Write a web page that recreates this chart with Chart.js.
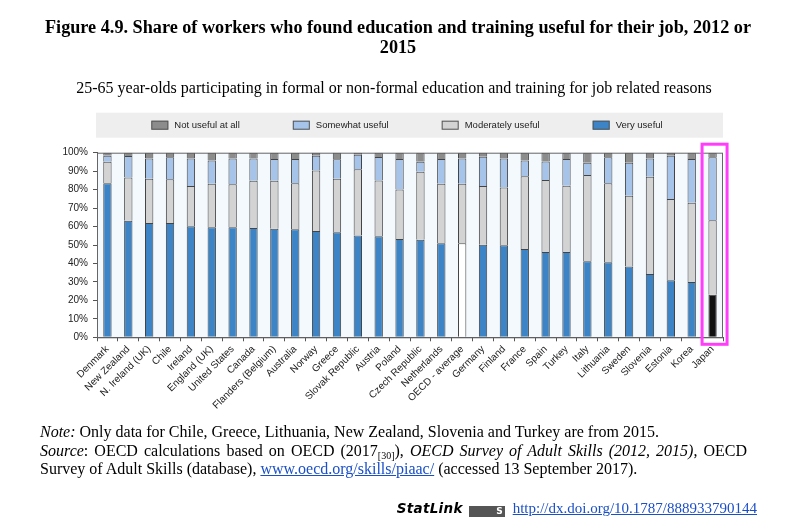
<!DOCTYPE html>
<html>
<head>
<meta charset="utf-8">
<script src="https://cdn.jsdelivr.net/npm/chart.js@4.4.1/dist/chart.umd.min.js"></script>
<style>
  body { margin: 0; background: #fff; }
  #wrap { position: relative; width: 800px; height: 532px; overflow: hidden; }
  #chart { position: absolute; left: 0; top: 0; }
  .serif { position: absolute; font-family: "Liberation Serif", "Times New Roman", serif; color: #000; }
  #title { top: 17px; left: -2px; width: 800px; text-align: center; font-weight: bold; font-size: 18.2px; line-height: 20px; }
  #subtitle { top: 79px; left: -6px; width: 800px; text-align: center; font-size: 16px; line-height: 18px; }
  #notes { top: 423px; left: 40px; width: 707px; font-size: 16px; line-height: 18.5px; }
  #notes div { white-space: nowrap; }
  #notes .just { white-space: normal; text-align: justify; text-align-last: justify; }
  #notes sub { font-size: 10px; line-height: 0; vertical-align: -3px; }
  #notes a, #statlink a { color: #1a4fc8; text-decoration: underline; }
  #statlink { top: 499px; right: 43px; font-size: 15px; line-height: 18px; white-space: nowrap; }
  .sl { font-family: "DejaVu Sans", sans-serif; font-weight: bold; font-style: italic; font-size: 13.5px; letter-spacing: 0.3px; margin-right: 6px; }
  .logo { display: inline-block; width: 36px; height: 11px; background: #555; color: #fff; font: bold 9px "DejaVu Sans", sans-serif; line-height: 11px; text-align: right; padding-right: 2px; box-sizing: border-box; margin-right: 8px; vertical-align: -1px; }
</style>
</head>
<body>
<div id="wrap">
  <canvas id="chart" width="800" height="532"></canvas>
  <div id="title" class="serif">Figure 4.9. Share of workers who found education and training useful for their job, 2012 or<br>2015</div>
  <div id="subtitle" class="serif">25-65 year-olds participating in formal or non-formal education and training for job related reasons</div>
  <div id="notes" class="serif">
    <div><i>Note:</i> Only data for Chile, Greece, Lithuania, New Zealand, Slovenia and Turkey are from 2015.</div>
    <div class="just"><i>Source</i>: OECD calculations based on OECD (2017<sub>[30]</sub>), <i>OECD Survey of Adult Skills (2012, 2015)</i>, OECD</div>
    <div>Survey of Adult Skills (database), <a>www.oecd.org/skills/piaac/</a> (accessed 13 September 2017).</div>
  </div>
  <div id="statlink" class="serif"><span class="sl">StatLink</span><span class="logo">S</span><a>http://dx.doi.org/10.1787/888933790144</a></div>
</div>
<script>
const countries = ['Denmark', 'New Zealand', 'N. Ireland (UK)', 'Chile', 'Ireland', 'England (UK)', 'United States',
  'Canada', 'Flanders (Belgium)', 'Australia', 'Norway', 'Greece', 'Slovak Republic', 'Austria', 'Poland',
  'Czech Republic', 'Netherlands', 'OECD - average', 'Germany', 'Finland', 'France', 'Spain', 'Turkey', 'Italy',
  'Lithuania', 'Sweden', 'Slovenia', 'Estonia', 'Korea', 'Japan'];

// shares in %, one value per country
const veryUseful = [83.4, 63.2, 61.9, 61.9, 60.1, 59.6, 59.6, 59.2, 58.8, 58.5, 57.6, 56.9, 55.2, 54.7, 53.2,
  52.9, 50.9, 50.9, 50.2, 49.8, 47.8, 46.2, 46.2, 41.2, 40.6, 38.3, 34.3, 30.9, 30.0, 23.1];
const moderatelyUseful = [11.7, 23.4, 24.0, 23.7, 21.8, 23.6, 23.3, 25.6, 26.0, 24.9, 32.7, 29.0, 35.8, 30.3, 26.8,
  36.8, 32.3, 32.3, 31.7, 31.4, 39.4, 39.0, 35.9, 46.7, 42.8, 38.4, 52.7, 44.0, 42.9, 40.3];
const somewhatUseful = [3.3, 11.6, 11.0, 11.9, 14.9, 12.6, 13.9, 12.1, 11.8, 13.2, 8.1, 10.5, 7.9, 12.7, 16.6,
  5.4, 13.4, 13.7, 15.9, 15.7, 8.6, 10.1, 14.5, 6.7, 14.1, 17.9, 9.9, 23.5, 23.7, 34.1];
const notUseful = [1.6, 1.8, 3.1, 2.5, 3.2, 4.2, 3.2, 3.1, 3.4, 3.4, 1.6, 3.6, 1.1, 2.3, 3.4,
  4.9, 3.4, 3.1, 2.2, 3.1, 4.2, 4.7, 3.4, 5.4, 2.5, 5.4, 3.1, 1.6, 3.4, 2.5];

const seriesNames = ['Very useful', 'Moderately useful', 'Somewhat useful', 'Not useful at all'];
const yTicks = [0, 10, 20, 30, 40, 50, 60, 70, 80, 90, 100];

const BLUE = '#3c84c5', GREY = '#d3d3d3', LIGHTBLUE = '#a6c4e9', DARKGREY = '#8c8c8c';
const oecdIdx = countries.indexOf('OECD - average');
const japanIdx = countries.indexOf('Japan');
const SANS = '"Liberation Sans", Arial, sans-serif';

const veryColors = countries.map((c, i) => i === oecdIdx ? '#ffffff' : (i === japanIdx ? '#111111' : BLUE));

// legend strip, plot background, frame and the Japan highlight
const framePlugin = {
  id: 'frame',
  beforeDraw(chart) {
    const { ctx, chartArea: a } = chart;
    ctx.save();
    const top = a.top - 40, h = 25;
    ctx.fillStyle = '#eeeeee';
    ctx.fillRect(a.left - 1, top, a.right - a.left + 1, h);

    ctx.font = '9.5px ' + SANS;
    ctx.textBaseline = 'middle';
    const items = chart.data.datasets.slice().reverse();
    const boxW = 17, boxH = 9, gapText = 6, gapItem = 53;
    const widths = items.map(d => boxW + gapText + ctx.measureText(d.label).width);
    const total = widths.reduce((s, w) => s + w, 0) + gapItem * (items.length - 1);
    let x = (a.left + a.right) / 2 - total / 2 - 3;
    const cy = top + h / 2;
    items.forEach((d, i) => {
      ctx.fillStyle = d.legendColor;
      ctx.fillRect(x, cy - boxH / 2, boxW, boxH);
      ctx.strokeStyle = '#555';
      ctx.lineWidth = 1;
      ctx.strokeRect(x + 0.5, cy - boxH / 2 + 0.5, boxW - 1, boxH - 1);
      ctx.fillStyle = '#222';
      ctx.fillText(d.label, x + boxW + gapText, cy);
      x += widths[i] + gapItem;
    });

    ctx.fillStyle = '#f4f9fd';
    ctx.fillRect(a.left, a.top, a.right - a.left, a.bottom - a.top);
    ctx.restore();
  },
  afterDraw(chart) {
    const { ctx, chartArea: a, scales } = chart;
    ctx.save();
    ctx.strokeStyle = '#666';
    ctx.lineWidth = 1;
    ctx.strokeRect(a.left + 0.5, a.top + 0.5, a.right - a.left - 1, a.bottom - a.top);
    const jx = scales.x.getPixelForValue(japanIdx);
    ctx.strokeStyle = '#ff3dfb';
    ctx.lineWidth = 3;
    ctx.strokeRect(jx - 10.5, a.top - 8.5, 25, a.bottom - a.top + 15.5);
    ctx.restore();
  }
};

new Chart(document.getElementById('chart'), {
  type: 'bar',
  data: {
    labels: countries,
    datasets: [
      { label: seriesNames[0], data: veryUseful, backgroundColor: veryColors, legendColor: BLUE },
      { label: seriesNames[1], data: moderatelyUseful, backgroundColor: GREY, legendColor: GREY },
      { label: seriesNames[2], data: somewhatUseful, backgroundColor: LIGHTBLUE, legendColor: LIGHTBLUE },
      { label: seriesNames[3], data: notUseful, backgroundColor: DARKGREY, legendColor: DARKGREY }
    ]
  },
  options: {
    responsive: false,
    animation: false,
    layout: { padding: { top: 152.7, right: 77, bottom: 110, left: 0 } },
    plugins: { legend: { display: false }, tooltip: { enabled: false } },
    datasets: { bar: { barPercentage: 0.8, categoryPercentage: 0.5, borderWidth: 1, borderColor: '#444' } },
    scales: {
      x: {
        stacked: true,
        offset: true,
        grid: { offset: true, drawOnChartArea: false, tickLength: 4, color: '#555' },
        border: { color: '#555' },
        ticks: { autoSkip: false, minRotation: 45, maxRotation: 45, padding: 2, color: '#222', font: { family: SANS, size: 10 } },
        afterFit(s) { s.height = 84.7; }
      },
      y: {
        stacked: true,
        min: 0,
        max: 100,
        afterBuildTicks(s) { s.ticks = yTicks.map(v => ({ value: v })); },
        ticks: { callback: v => v + '%', padding: 5, color: '#222', font: { family: SANS, size: 10 } },
        grid: { drawOnChartArea: false, tickLength: 4, color: '#555' },
        border: { color: '#555' },
        afterFit(s) { s.width = 97; }
      }
    }
  },
  plugins: [framePlugin]
});
</script>
</body>
</html>
